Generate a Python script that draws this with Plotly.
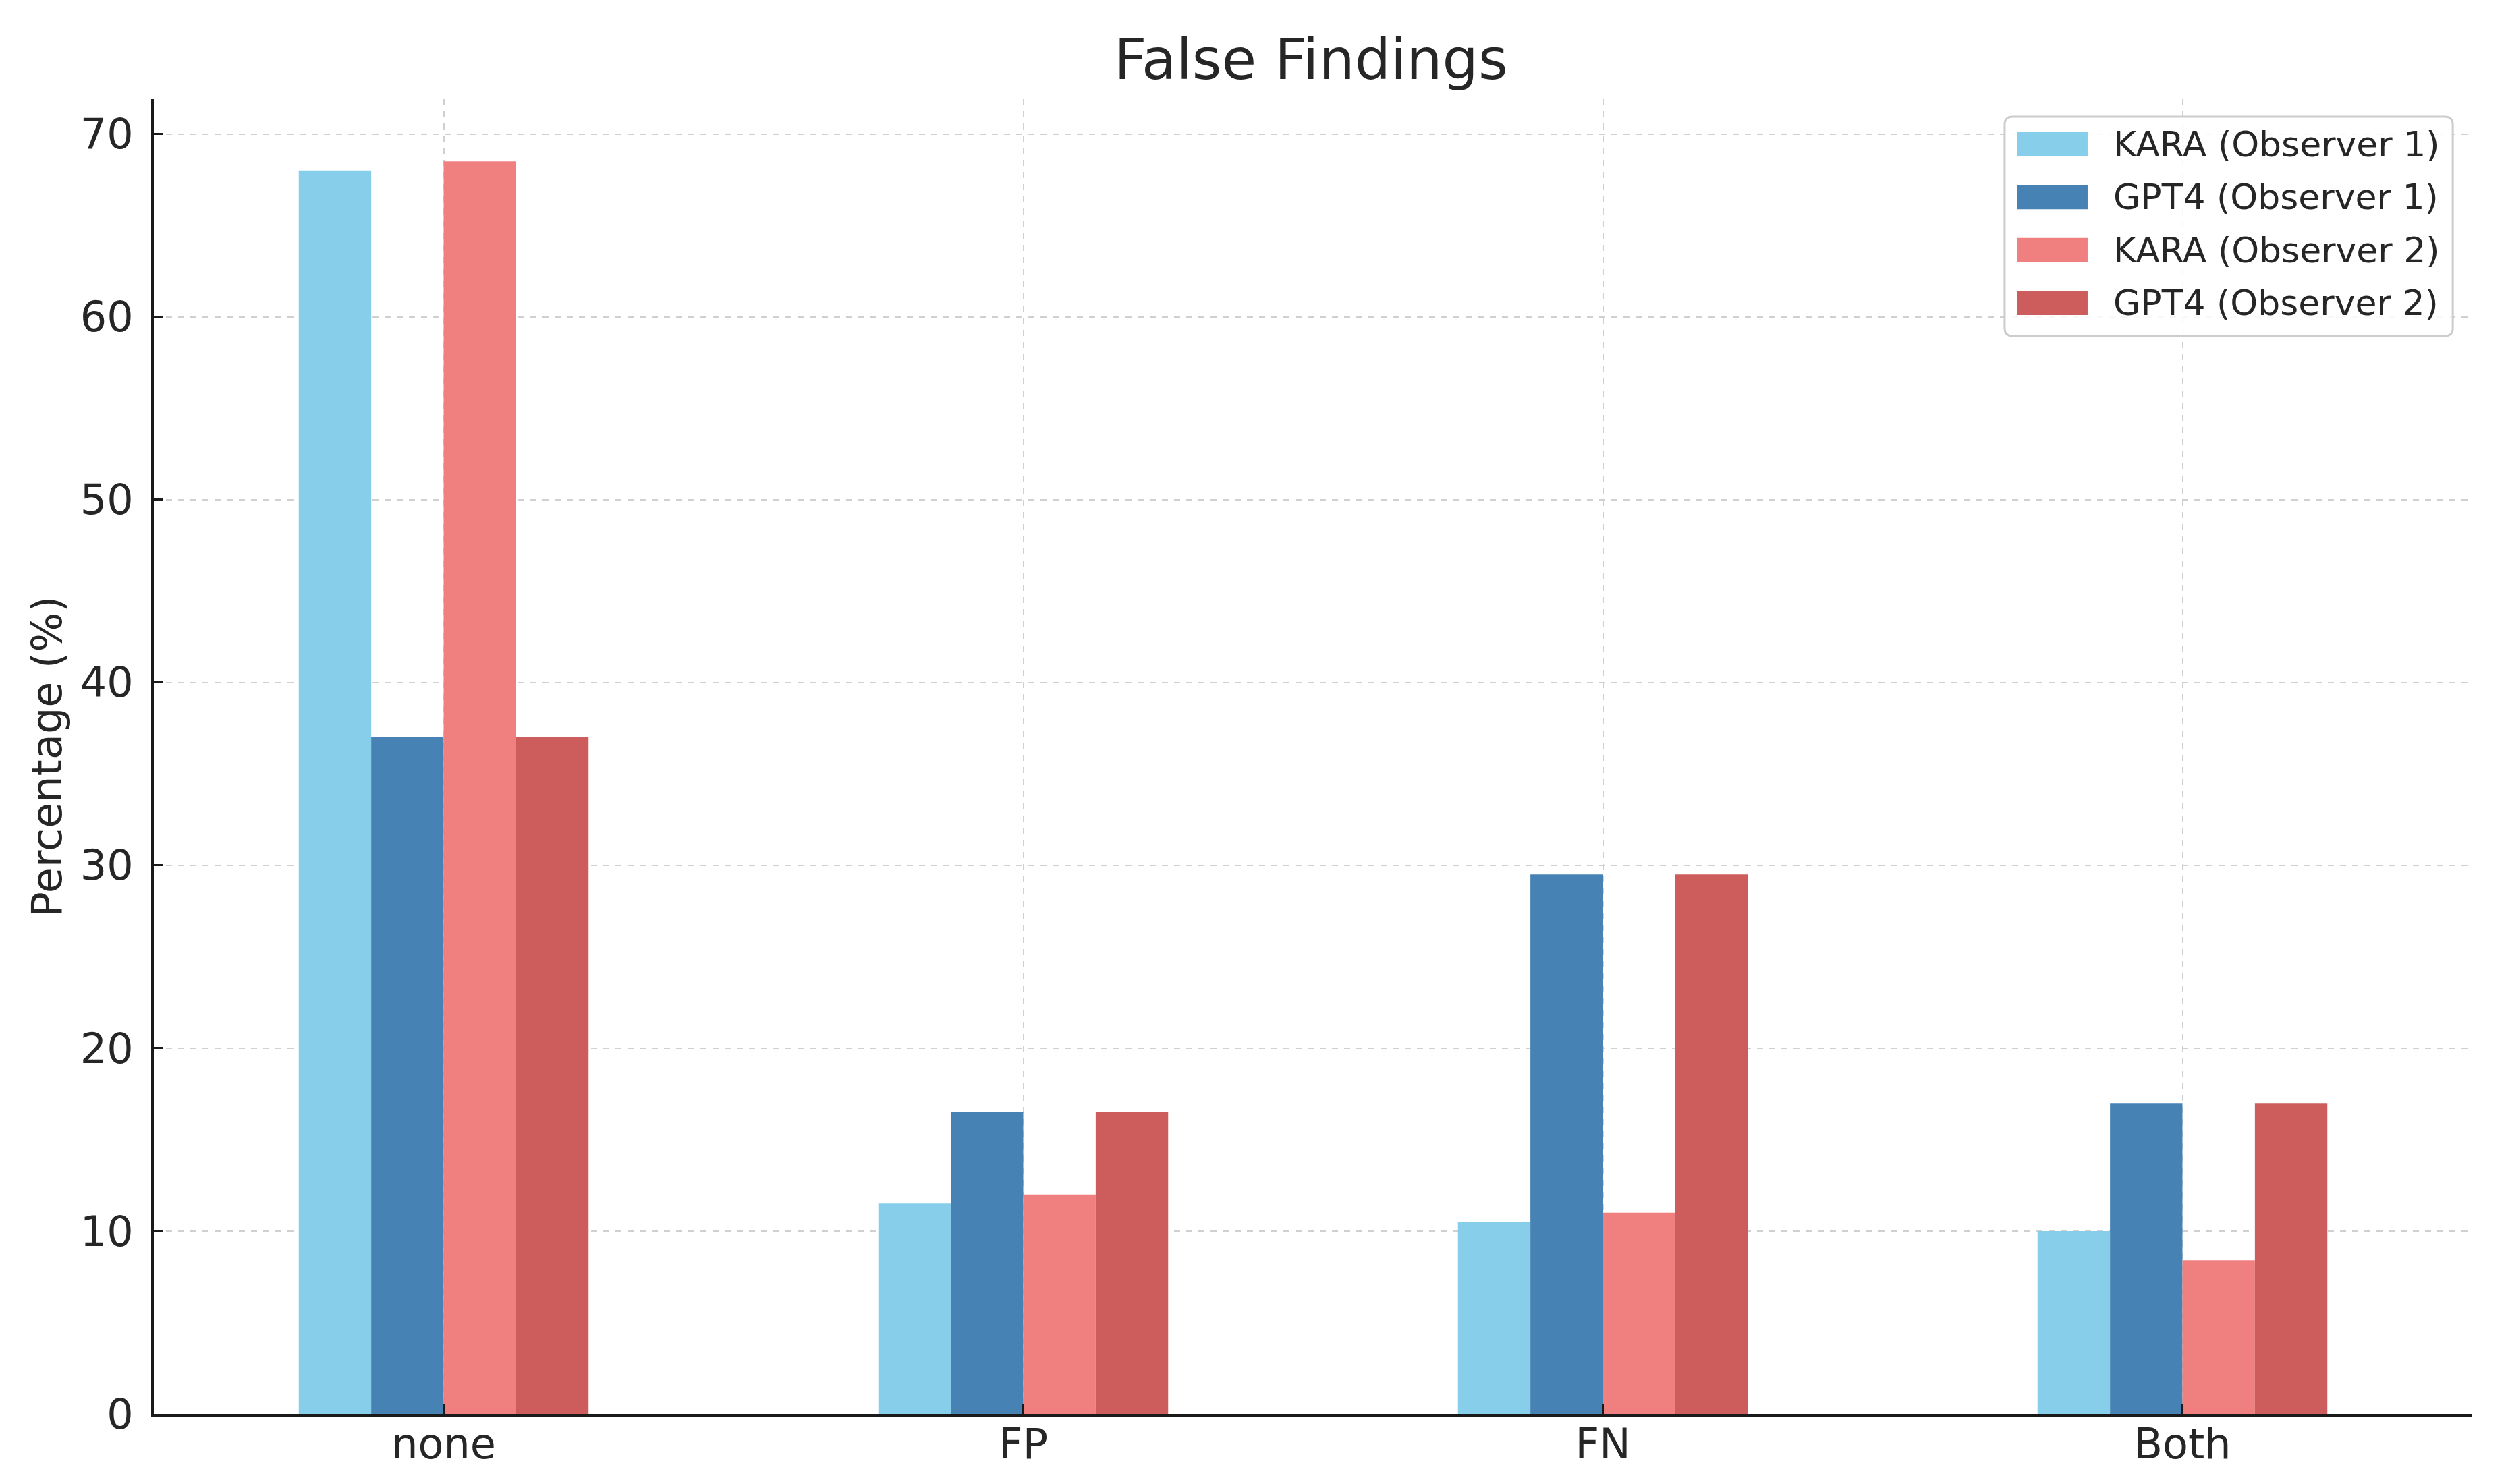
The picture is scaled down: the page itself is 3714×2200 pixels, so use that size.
import plotly.graph_objects as go

categories = ["none", "FP", "FN", "Both"]
kara_obs1 = [68.0, 11.5, 10.5, 10.0]
gpt4_obs1 = [37.0, 16.5, 29.5, 17.0]
kara_obs2 = [68.5, 12.0, 11.0, 8.4]
gpt4_obs2 = [37.0, 16.5, 29.5, 17.0]

series_names = ["KARA (Observer 1)", "GPT4 (Observer 1)", "KARA (Observer 2)", "GPT4 (Observer 2)"]
series_values = [kara_obs1, gpt4_obs1, kara_obs2, gpt4_obs2]
series_colors = ["#87CEEB", "#4682B4", "#F08080", "#CD5C5C"]

y_ticks = [0, 10, 20, 30, 40, 50, 60, 70]

FONT = "DejaVu Sans"
TXT = "#262626"

W, H = 3714, 2200
ML, MR, MT, MB = 220, 58, 139, 112
PW = W - ML - MR
PH = H - MT - MB

fig = go.Figure()
for name, vals, col in zip(series_names, series_values, series_colors):
    fig.add_trace(go.Bar(
        x=categories, y=vals, name=name,
        marker=dict(color=col, line=dict(width=0)),
        showlegend=False,
    ))

# ---- legend box (drawn in paper coordinates, matplotlib style) ----
def px_x(p):
    return p / PW

def px_y(p):
    return p / PH

box_x0, box_x1 = 0.7983, 0.9916
box_y0, box_y1 = 0.8199, 0.9867
r = 12
rx, ry = px_x(r), px_y(r)
path = (f"M {box_x0+rx},{box_y1} L {box_x1-rx},{box_y1} Q {box_x1},{box_y1} {box_x1},{box_y1-ry} "
        f"L {box_x1},{box_y0+ry} Q {box_x1},{box_y0} {box_x1-rx},{box_y0} "
        f"L {box_x0+rx},{box_y0} Q {box_x0},{box_y0} {box_x0},{box_y0+ry} "
        f"L {box_x0},{box_y1-ry} Q {box_x0},{box_y1} {box_x0+rx},{box_y1} Z")
shapes = [dict(type="path", xref="paper", yref="paper", path=path,
               fillcolor="rgba(255,255,255,0.85)", line=dict(color="#cccccc", width=3),
               layer="above")]
annotations = []
row0 = 0.9656
pitch = px_y(78.3)
sym_x0, sym_x1 = 0.8038, 0.8341
sym_h = px_y(36)
for i, (name, col) in enumerate(zip(series_names, series_colors)):
    yc = row0 - i * pitch
    shapes.append(dict(type="rect", xref="paper", yref="paper",
                       x0=sym_x0, x1=sym_x1, y0=yc - sym_h / 2, y1=yc + sym_h / 2,
                       fillcolor=col, line=dict(width=0), layer="above"))
    annotations.append(dict(xref="paper", yref="paper", x=0.8445, y=yc,
                            xanchor="left", yanchor="middle", showarrow=False,
                            text=name, font=dict(family=FONT, size=52, color=TXT)))

fig.update_layout(
    width=W, height=H,
    paper_bgcolor="white", plot_bgcolor="white",
    barmode="group", bargap=0.5, bargroupgap=0,
    margin=dict(l=ML, r=MR, t=MT, b=MB, autoexpand=False),
    font=dict(family=FONT, color=TXT, size=62),
    title=dict(text="False Findings", x=0.521, xanchor="center",
               y=1 - 80 / 2200, yanchor="middle", yref="container",
               font=dict(family=FONT, size=84, color=TXT)),
    showlegend=False,
    shapes=shapes,
    annotations=annotations,
)

fig.update_xaxes(
    type="category", range=[-0.5, 3.5],
    showline=True, linecolor="#1a1a1a", linewidth=4, mirror=False,
    showgrid=True, gridcolor="#d0d0d0", gridwidth=2, griddash="dash",
    ticks="inside", ticklen=14, tickwidth=3, tickcolor="#1a1a1a",
    tickfont=dict(family=FONT, size=62, color=TXT),
    ticklabelstandoff=-12,
    zeroline=False,
)
fig.update_yaxes(
    range=[0, 71.9], tickvals=y_ticks,
    showline=True, linecolor="#1a1a1a", linewidth=4, mirror=False,
    showgrid=True, gridcolor="#d0d0d0", gridwidth=2, griddash="dash",
    ticks="inside", ticklen=14, tickwidth=3, tickcolor="#1a1a1a",
    tickfont=dict(family=FONT, size=62, color=TXT),
    ticklabelstandoff=14,
    title=dict(text="Percentage (%)", font=dict(family=FONT, size=62, color=TXT), standoff=8),
    zeroline=False,
)

fig.write_html("out.html")
